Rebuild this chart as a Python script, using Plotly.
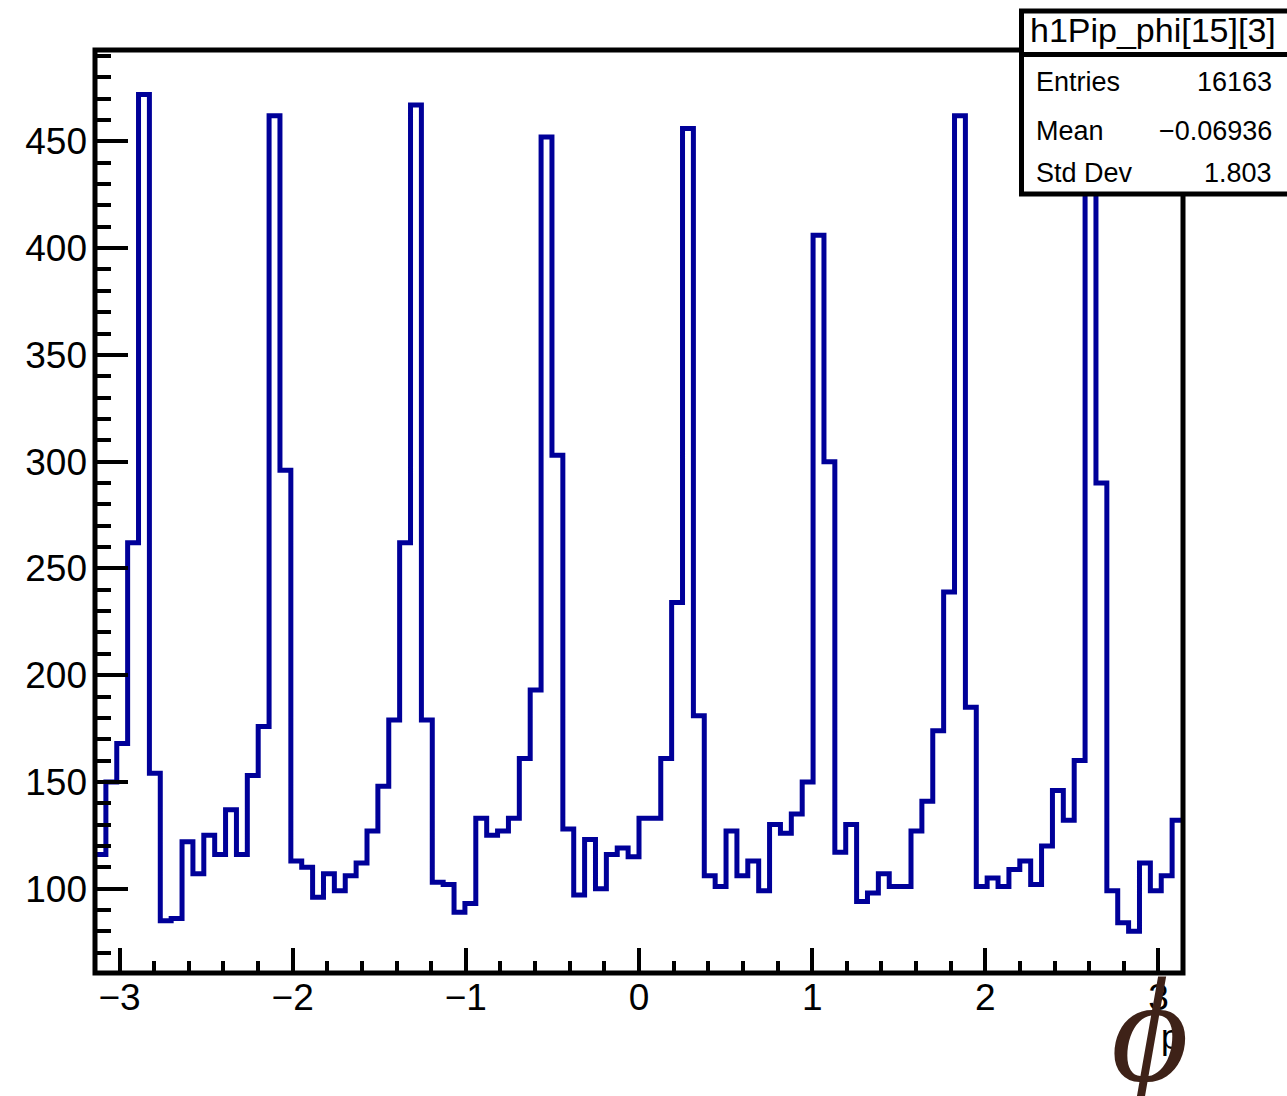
import numpy as np
import plotly.graph_objects as go

# ---------------- data ----------------
counts = [
    116, 150, 168, 262, 472, 154, 85, 86, 122, 107,
    125, 116, 137, 116, 153, 176, 462, 296, 113, 110,
    96, 107, 99, 106, 112, 127, 148, 179, 262, 467,
    179, 103, 102, 89, 93, 133, 125, 127, 133, 161,
    193, 452, 303, 128, 97, 123, 100, 116, 119, 115,
    133, 133, 161, 234, 456, 181, 106, 101, 127, 106,
    113, 99, 130, 126, 135, 150, 406, 300, 117, 130,
    94, 98, 107, 101, 101, 127, 141, 174, 239, 462,
    185, 101, 105, 101, 109, 113, 102, 120, 146, 132,
    160, 466, 290, 99, 84, 80, 112, 99, 106, 132,
]
n_bins = 100
x_min, x_max = -np.pi, np.pi
y_lo, y_hi = 60.5, 492.8

hist_name = "h1Pip_phi[15][3]"
stat_labels = ["Entries", "Mean", "Std Dev"]
stat_values = ["16163", "\u22120.06936", "1.803"]

edges = np.linspace(x_min, x_max, n_bins + 1)

# ---------------- layout geometry (pixels) ----------------
W, H = 1287, 1096
L, R, T, B = 95, 1183, 50, 973


def px(xp):
    return (xp - L) / (R - L)


def py(yp):
    return (B - yp) / (B - T)


fig = go.Figure()
fig.add_trace(
    go.Scatter(
        x=list(edges),
        y=counts + [counts[-1]],
        mode="lines",
        line=dict(shape="hv", color="#000099", width=5),
        hoverinfo="skip",
    )
)

fig.update_layout(
    width=W,
    height=H,
    margin=dict(l=L, r=W - R, t=T, b=H - B, pad=0),
    plot_bgcolor="white",
    paper_bgcolor="white",
    showlegend=False,
    font=dict(family="Liberation Sans, Arial, Helvetica, sans-serif", color="black"),
)

fig.update_xaxes(
    range=[x_min, x_max],
    showgrid=False,
    zeroline=False,
    showline=False,
    ticks="inside",
    ticklen=25,
    tickwidth=4,
    tickcolor="black",
    tick0=0,
    dtick=1,
    tickfont=dict(size=37),
    ticklabelstandoff=-1,
    minor=dict(dtick=0.2, tick0=0, ticks="inside", ticklen=12, tickwidth=4, tickcolor="black"),
)
fig.update_yaxes(
    range=[y_lo, y_hi],
    showgrid=False,
    zeroline=False,
    showline=False,
    ticks="inside",
    ticklen=33,
    tickwidth=4,
    tickcolor="black",
    tick0=0,
    dtick=50,
    tickfont=dict(size=37),
    ticklabelstandoff=7,
    minor=dict(dtick=10, tick0=0, ticks="inside", ticklen=16, tickwidth=4, tickcolor="black"),
)

# ---------------- frame ----------------
fig.add_shape(type="rect", xref="paper", yref="paper", x0=0, x1=1, y0=0, y1=1,
              line=dict(color="black", width=5), fillcolor="rgba(0,0,0,0)", layer="above")

# ---------------- stats box ----------------
box_l, box_r = 1021.5, 1300
title_top, sep_y, box_bot = 11, 54.5, 194
fig.add_shape(type="rect", xref="paper", yref="paper",
              x0=px(box_l), x1=px(box_r), y0=py(box_bot), y1=py(sep_y),
              line=dict(color="black", width=5), fillcolor="white", layer="above")
fig.add_shape(type="rect", xref="paper", yref="paper",
              x0=px(box_l), x1=px(box_r), y0=py(sep_y), y1=py(title_top),
              line=dict(color="black", width=5), fillcolor="white", layer="above")

fig.add_annotation(text=hist_name, xref="paper", yref="paper",
                   x=px(1153), y=py(30), xanchor="center", yanchor="middle",
                   showarrow=False, font=dict(size=34, color="black"))

row_y = [82, 131, 173]
for lab, val, yy in zip(stat_labels, stat_values, row_y):
    fig.add_annotation(text=lab, xref="paper", yref="paper",
                       x=px(1034), y=py(yy), xanchor="left", yanchor="middle",
                       showarrow=False, font=dict(size=27, color="black"))
    fig.add_annotation(text=val, xref="paper", yref="paper",
                       x=px(1274), y=py(yy), xanchor="right", yanchor="middle",
                       showarrow=False, font=dict(size=27, color="black"))

# ---------------- axis title (phi + p) ----------------
fig.add_annotation(text="p", xref="paper", yref="paper",
                   x=px(1170), y=py(1036), xanchor="center", yanchor="middle",
                   showarrow=False, font=dict(size=35, color="black"))
fig.add_annotation(text="<i>\u03d5</i>", xref="paper", yref="paper",
                   x=px(1150), y=py(1030), xanchor="center", yanchor="middle",
                   showarrow=False,
                   font=dict(size=150, color="rgb(62,34,24)",
                             family="Liberation Serif, DejaVu Serif, serif"))

fig.write_html("out.html", config={"displayModeBar": False},
               post_script="document.body.style.margin='0';")
